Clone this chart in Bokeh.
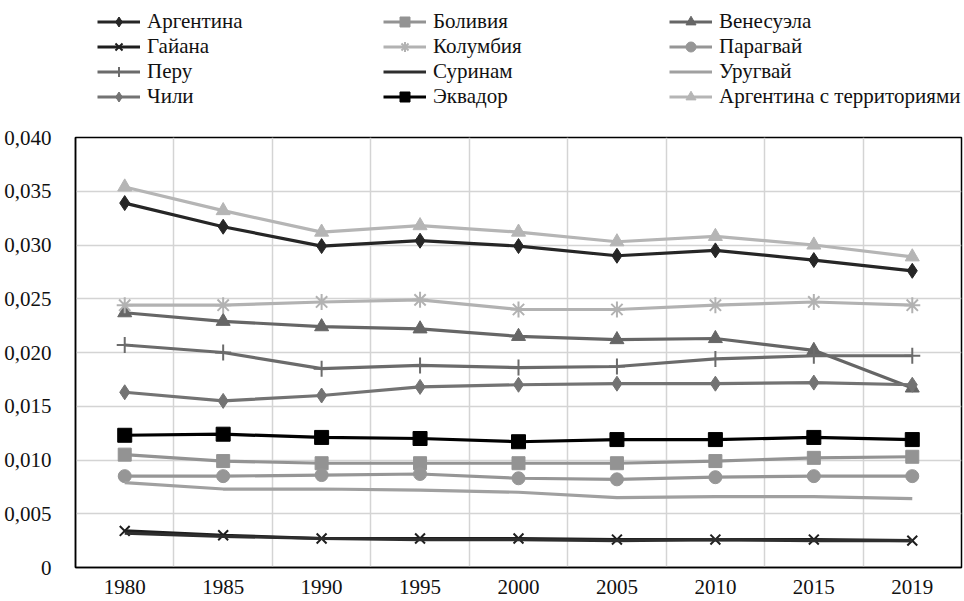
from bokeh.plotting import figure
from bokeh.layouts import column
from bokeh.models import Legend, LegendItem, FixedTicker
from bokeh.embed import file_html
from bokeh.resources import INLINE

years = ["1980", "1985", "1990", "1995", "2000", "2005", "2010", "2015", "2019"]

argentina = [0.0339, 0.0317, 0.0299, 0.0304, 0.0299, 0.0290, 0.0295, 0.0286, 0.0276]
bolivia = [0.0105, 0.0099, 0.0097, 0.0097, 0.0097, 0.0097, 0.0099, 0.0102, 0.0103]
venezuela = [0.0237, 0.0229, 0.0224, 0.0222, 0.0215, 0.0212, 0.0213, 0.0202, 0.0167]
guyana = [0.0034, 0.0030, 0.0027, 0.0027, 0.0027, 0.0026, 0.0026, 0.0026, 0.0025]
colombia = [0.0244, 0.0244, 0.0247, 0.0249, 0.0240, 0.0240, 0.0244, 0.0247, 0.0244]
paraguay = [0.0085, 0.0085, 0.0086, 0.0087, 0.0083, 0.0082, 0.0084, 0.0085, 0.0085]
peru = [0.0207, 0.0200, 0.0185, 0.0188, 0.0186, 0.0187, 0.0194, 0.0197, 0.0197]
suriname = [0.0032, 0.0029, 0.0027, 0.0026, 0.0026, 0.0025, 0.0026, 0.0025, 0.0025]
uruguay = [0.0079, 0.0073, 0.0073, 0.0072, 0.0070, 0.0065, 0.0066, 0.0066, 0.0064]
chile = [0.0163, 0.0155, 0.0160, 0.0168, 0.0170, 0.0171, 0.0171, 0.0172, 0.0170]
ecuador = [0.0123, 0.0124, 0.0121, 0.0120, 0.0117, 0.0119, 0.0119, 0.0121, 0.0119]
argentina_terr = [0.0354, 0.0332, 0.0312, 0.0318, 0.0312, 0.0303, 0.0308, 0.0300, 0.0289]

y_ticks = [0, 0.005, 0.010, 0.015, 0.020, 0.025, 0.030, 0.035, 0.040]
y_tick_labels = ["0", "0,005", "0,010", "0,015", "0,020", "0,025", "0,030", "0,035", "0,040"]

series = [
    ("Аргентина", argentina, "#262626", "diamond", 15),
    ("Боливия", bolivia, "#939393", "square", 13),
    ("Венесуэла", venezuela, "#666666", "triangle", 14),
    ("Гайана", guyana, "#1e1e1e", "x", 14),
    ("Колумбия", colombia, "#b2b2b2", "asterisk", 16),
    ("Парагвай", paraguay, "#969696", "circle", 13),
    ("Перу", peru, "#6b6b6b", "cross", 16),
    ("Суринам", suriname, "#2e2e2e", None, 0),
    ("Уругвай", uruguay, "#a0a0a0", None, 0),
    ("Чили", chile, "#737373", "diamond", 15),
    ("Эквадор", ecuador, "#000000", "square", 14),
    ("Аргентина с территориями", argentina_terr, "#b5b5b5", "triangle", 14),
]

FONT = "Liberation Serif"
FS = "21px"
xs = list(range(len(years)))


def draw(fig, x, vals, color, marker, size):
    rs = [fig.line(x, vals, line_color=color, line_width=3.2)]
    if marker is not None:
        if marker in ("x", "asterisk", "cross"):
            rs.append(fig.scatter(x, vals, marker=marker, size=size, line_color=color,
                                  line_width=2, fill_color=None))
        else:
            rs.append(fig.scatter(x, vals, marker=marker, size=size, line_color=color,
                                  fill_color=color))
    return rs


# ---- legend strip (its own copies of the series lie outside its view) ----
lg = figure(width=964, height=117, output_backend="svg", toolbar_location=None,
            x_range=(-20, -19), y_range=(-20, -19),
            min_border_left=75, min_border_top=0, min_border_right=3, min_border_bottom=0)
lg.axis.visible = False
lg.grid.visible = False
lg.outline_line_color = None
lg.background_fill_alpha = 0
lg.border_fill_alpha = 0

items = []
for name, vals, color, marker, size in series:
    rs = draw(lg, xs, vals, color, marker, size)
    items.append(LegendItem(label=name, renderers=rs))

legend = Legend(items=items, orientation="horizontal", ncols=3,
                location=(22, 8), padding=0, margin=0, spacing=0,
                glyph_width=43, glyph_height=25, label_height=25, label_width=236,
                label_standoff=7, label_text_font=FONT, label_text_font_size=FS,
                label_text_color="#111111",
                border_line_color=None, background_fill_alpha=0)
lg.add_layout(legend, "center")

# ---- main chart ----
p = figure(width=964, height=484, output_backend="svg", toolbar_location=None,
           x_range=(-0.5, len(years) - 0.5), y_range=(0, 0.040),
           min_border_left=75, min_border_right=3, min_border_top=20, min_border_bottom=34)

p.outline_line_color = "black"
p.outline_line_width = 1.5
p.background_fill_color = "white"

p.xaxis.ticker = FixedTicker(ticks=xs)
p.xaxis.major_label_overrides = {i: y for i, y in enumerate(years)}
p.yaxis.ticker = FixedTicker(ticks=y_ticks)
p.yaxis.major_label_overrides = {t: l for t, l in zip(y_ticks, y_tick_labels)}

for ax in (p.xaxis[0], p.yaxis[0]):
    ax.axis_line_color = "black"
    ax.axis_line_width = 1.5
    ax.major_tick_line_color = None
    ax.minor_tick_line_color = None
    ax.major_label_text_font = FONT
    ax.major_label_text_font_size = FS
    ax.major_label_text_color = "#111111"
p.xaxis.major_label_standoff = 6
p.yaxis.major_label_standoff = 18

p.xgrid.ticker = FixedTicker(ticks=[i + 0.5 for i in xs[:-1]])
p.xgrid.grid_line_color = "#d4d4d4"
p.xgrid.grid_line_width = 1.5
p.ygrid.ticker = FixedTicker(ticks=y_ticks)
p.ygrid.grid_line_color = "#d4d4d4"
p.ygrid.grid_line_width = 1.5

for name, vals, color, marker, size in series:
    draw(p, xs, vals, color, marker, size)

layout = column(lg, p, spacing=0)
open("out.html", "w").write(file_html(layout, INLINE))
